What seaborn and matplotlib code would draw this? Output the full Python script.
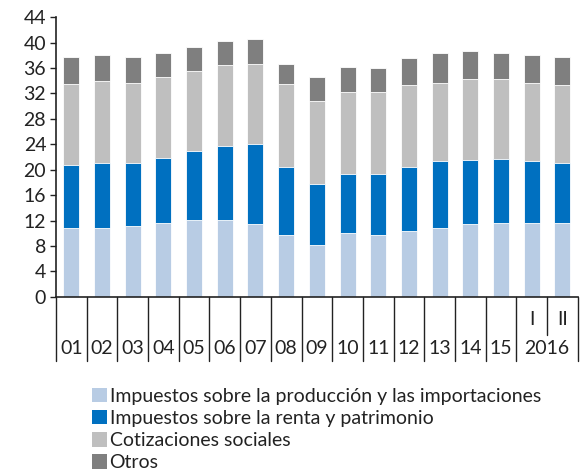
import matplotlib.pyplot as plt
import seaborn as sns
import pandas as pd
from matplotlib.patches import Patch

# data (% of GDP, stacked)
years = ["01", "02", "03", "04", "05", "06", "07", "08", "09", "10",
         "11", "12", "13", "14", "15", "2016 I", "2016 II"]
produccion = [10.9, 10.9, 11.2, 11.6, 12.1, 12.1, 11.4, 9.8, 8.2, 10.0,
              9.8, 10.3, 10.9, 11.4, 11.6, 11.6, 11.6]
renta = [9.9, 10.1, 9.8, 10.3, 10.8, 11.6, 12.6, 10.6, 9.5, 9.3,
         9.5, 10.1, 10.4, 10.1, 10.1, 9.7, 9.4]
cotizaciones = [12.7, 12.9, 12.7, 12.7, 12.7, 12.8, 12.7, 13.1, 13.1, 12.9,
                12.9, 12.9, 12.4, 12.7, 12.5, 12.4, 12.3]
otros = [4.2, 4.1, 4.0, 3.8, 3.7, 3.7, 3.9, 3.2, 3.8, 4.0,
         3.8, 4.2, 4.7, 4.5, 4.2, 4.3, 4.5]

series_names = ["Impuestos sobre la producción y las importaciones",
                "Impuestos sobre la renta y patrimonio",
                "Cotizaciones sociales",
                "Otros"]
colors = ["#B8CCE4", "#0070C0", "#BFBFBF", "#7F7F7F"]

df = pd.DataFrame({"year": years, "produccion": produccion, "renta": renta,
                   "cotizaciones": cotizaciones, "otros": otros})
cols = ["produccion", "renta", "cotizaciones", "otros"]
cum = df[cols].cumsum(axis=1)
cum["year"] = df["year"]

sns.set_theme(style="white")
plt.rcParams["font.family"] = ["Lato", "DejaVu Sans"]

fig = plt.figure(figsize=(5.83, 4.75), dpi=100)
ax = fig.add_axes([0.096, 0.375, 0.895, 0.589])

# draw cumulative totals from the top down so each layer shows as a stack
for col, color in reversed(list(zip(cols, colors))):
    sns.barplot(data=cum, x="year", y=col, order=years, color=color,
                saturation=1, width=0.52, ax=ax, linewidth=0.6, edgecolor="white")

ax.set_xlim(-0.5, len(years) - 0.5)
ax.set_ylim(0, 44)
ax.set_yticks(range(0, 45, 4))
ax.tick_params(axis="y", labelsize=14, length=4, width=1, color="#222222",
               left=True, pad=3, labelcolor="#222222")
ax.set_xticks([])
ax.set_xlabel("")
ax.set_ylabel("")
sns.despine(ax=ax)
for s in ["left", "bottom"]:
    ax.spines[s].set_color("#222222")
    ax.spines[s].set_linewidth(1.2)

# two-level category axis
trans = ax.get_xaxis_transform()
for b in range(0, 16):
    ax.plot([b - 0.5, b - 0.5], [0, -0.23], transform=trans, color="#222222",
            lw=1, clip_on=False)
ax.plot([16.5, 16.5], [0, -0.23], transform=trans, color="#222222", lw=1, clip_on=False)
ax.plot([15.5, 15.5], [0, -0.135], transform=trans, color="#222222", lw=1, clip_on=False)
for i, y in enumerate(years[:15]):
    ax.text(i, -0.185, y, transform=trans, ha="center", va="center",
            fontsize=14, color="#222222")
ax.text(15.5, -0.185, "2016", transform=trans, ha="center", va="center",
        fontsize=14, color="#222222")
ax.text(15, -0.08, "I", transform=trans, ha="center", va="center",
        fontsize=14, color="#222222")
ax.text(16, -0.08, "II", transform=trans, ha="center", va="center",
        fontsize=14, color="#222222")

handles = [Patch(facecolor=c, edgecolor="none") for c in colors]
fig.legend(handles, series_names, loc="upper left", bbox_to_anchor=(0.158, 0.183),
           frameon=False, fontsize=14, handlelength=0.75, handleheight=0.75,
           handletextpad=0.15, labelspacing=0.26, borderaxespad=0,
           borderpad=0, labelcolor="#222222")

fig.savefig("out.png", dpi=100)
